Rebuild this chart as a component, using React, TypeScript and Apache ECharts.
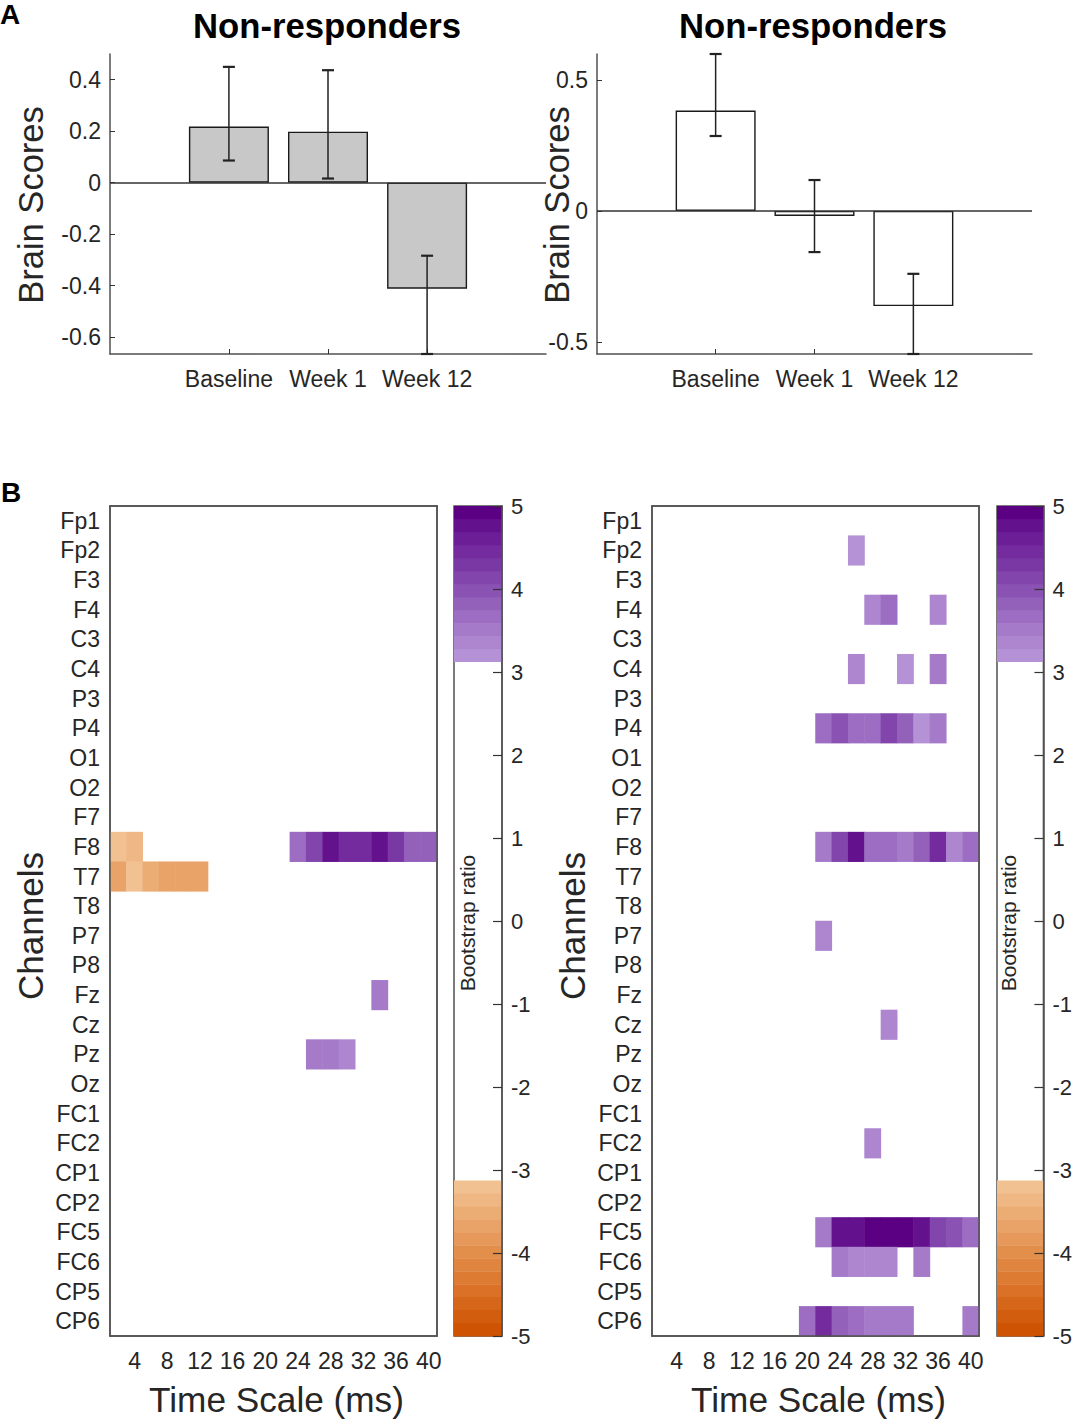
import React, { useRef, useEffect } from "react";
import * as echarts from "echarts";

const conditions = ["Baseline", "Week 1", "Week 12"];
const conditionPositions = [1, 2, 3];

const leftScores = [0.218, 0.198, -0.412];
const leftErrLow = [0.086, 0.016, -0.666];
const leftErrHigh = [0.45, 0.437, -0.284];
const leftTicks = [-0.6, -0.4, -0.2, 0, 0.2, 0.4];

const rightScores = [0.383, -0.019, -0.363];
const rightErrLow = [0.286, -0.157, -0.546];
const rightErrHigh = [0.599, 0.118, -0.24];
const rightTicks = [-0.5, 0, 0.5];

const channels = [
  "Fp1", "Fp2", "F3", "F4", "C3", "C4", "P3", "P4", "O1", "O2", "F7", "F8", "T7", "T8",
  "P7", "P8", "Fz", "Cz", "Pz", "Oz", "FC1", "FC2", "CP1", "CP2", "FC5", "FC6", "CP5", "CP6",
];
const timeScale = [
  "2", "4", "6", "8", "10", "12", "14", "16", "18", "20",
  "22", "24", "26", "28", "30", "32", "34", "36", "38", "40",
];

// [channel, time scale, bootstrap ratio], only the cells above threshold
const leftCells: [string, string, number][] = [
  ["F8", "2", -3.25], ["F8", "4", -3.35],
  ["F8", "24", 3.7], ["F8", "26", 4.2], ["F8", "28", 4.8], ["F8", "30", 4.5], ["F8", "32", 4.5],
  ["F8", "34", 4.7], ["F8", "36", 4.25], ["F8", "38", 3.8], ["F8", "40", 3.8],
  ["T7", "2", -3.65], ["T7", "4", -3.25], ["T7", "6", -3.5], ["T7", "8", -3.65], ["T7", "10", -3.65], ["T7", "12", -3.65],
  ["Fz", "34", 3.55],
  ["Pz", "26", 3.55], ["Pz", "28", 3.45], ["Pz", "30", 3.3],
];
const rightCells: [string, string, number][] = [
  ["Fp2", "26", 3.2],
  ["F4", "28", 3.35], ["F4", "30", 3.7], ["F4", "36", 3.35],
  ["C4", "26", 3.35], ["C4", "32", 3.2], ["C4", "36", 3.55],
  ["P4", "22", 3.7], ["P4", "24", 3.95], ["P4", "26", 3.7], ["P4", "28", 3.7], ["P4", "30", 4.15],
  ["P4", "32", 3.8], ["P4", "34", 3.2], ["P4", "36", 3.45],
  ["F8", "22", 3.45], ["F8", "24", 4.2], ["F8", "26", 4.75], ["F8", "28", 3.7], ["F8", "30", 3.7],
  ["F8", "32", 3.55], ["F8", "34", 3.9], ["F8", "36", 4.4], ["F8", "38", 3.35], ["F8", "40", 3.7],
  ["P7", "22", 3.35],
  ["Cz", "30", 3.3],
  ["FC2", "28", 3.3],
  ["FC5", "22", 3.45], ["FC5", "24", 4.8], ["FC5", "26", 4.8], ["FC5", "28", 5], ["FC5", "30", 5],
  ["FC5", "32", 5], ["FC5", "34", 4.7], ["FC5", "36", 4.2], ["FC5", "38", 4.0], ["FC5", "40", 3.6],
  ["FC6", "24", 3.45], ["FC6", "26", 3.35], ["FC6", "28", 3.35], ["FC6", "30", 3.35], ["FC6", "34", 3.45],
  ["CP6", "20", 3.6], ["CP6", "22", 4.4], ["CP6", "24", 3.8], ["CP6", "26", 3.7], ["CP6", "28", 3.45],
  ["CP6", "30", 3.45], ["CP6", "32", 3.45], ["CP6", "40", 3.55],
];

// colormap: 64 levels over -5..5, the middle 40 are white
const purples = [
  "#b592d6", "#ad86cf", "#a57ac9", "#9c6dc2", "#9360ba", "#8a52b2",
  "#8245ab", "#7a38a4", "#732b9d", "#6c1e96", "#64118e", "#5b0082",
];
const oranges = [
  "#f2c192", "#efb783", "#ecad75", "#e9a368", "#e6995a", "#e38f4c",
  "#e0853f", "#dd7b32", "#da7126", "#d6671a", "#d25d0e", "#ce5302",
];
const colorbarTicks = [-5, -4, -3, -2, -1, 0, 1, 2, 3, 4, 5];
const bandStep = 10 / 64;

const inkColor = "#262626";
const axisColor = "#505050";
const tickColor = "#333333";
const fontFamily = "Liberation Sans, Arial, sans-serif";

const pieces: any[] = [];
const bands: any[] = [];
const bandColors: string[] = [];
purples.forEach((color, i) => {
  const lo = 5 - (12 - i) * bandStep;
  pieces.push({ gte: lo, lte: lo + bandStep, color });
  bands.push([0, lo, lo + bandStep, bandColors.length]);
  bandColors.push(color);
});
oranges.forEach((color, i) => {
  const hi = -5 + (12 - i) * bandStep;
  pieces.push({ gte: hi - bandStep, lte: hi, color });
  bands.push([0, hi - bandStep, hi, bandColors.length]);
  bandColors.push(color);
});

const errorBarItem = (params: any, api: any) => {
  const x = api.value(0);
  const low = api.coord([x, api.value(1)]);
  const high = api.coord([x, api.value(2)]);
  const stem = { stroke: "#222222", lineWidth: 1.5 };
  const cap = { stroke: "#222222", lineWidth: 2.2 };
  return {
    type: "group",
    children: [
      { type: "line", shape: { x1: low[0], y1: low[1], x2: high[0], y2: high[1] }, style: stem },
      { type: "line", shape: { x1: low[0] - 6, y1: low[1], x2: low[0] + 6, y2: low[1] }, style: cap },
      { type: "line", shape: { x1: high[0] - 6, y1: high[1], x2: high[0] + 6, y2: high[1] }, style: cap },
    ],
  };
};

const bandItem = (params: any, api: any) => {
  const top = api.coord([0, api.value(2)]);
  const bottom = api.coord([1, api.value(1)]);
  return {
    type: "rect",
    shape: { x: top[0], y: top[1], width: bottom[0] - top[0], height: bottom[1] - top[1] + 0.4 },
    style: { fill: bandColors[api.value(3)] },
  };
};

const App = function () {
  const chart = useRef<HTMLDivElement>(null);

  useEffect(() => {
    if (!chart.current) return;
    const myChart = echarts.init(chart.current, null, { renderer: "svg" });

    const xAxes: any[] = [];
    const yAxes: any[] = [];
    const grids: any[] = [];
    const series: any[] = [];

    const addBarPanel = (
      left: number,
      width: number,
      min: number,
      max: number,
      ticks: number[],
      scores: number[],
      errLow: number[],
      errHigh: number[],
      fill: string,
      nameGap: number
    ) => {
      const idx = grids.length;
      grids.push({ left, top: 54, width, height: 300 });
      const xIdx = xAxes.length;
      xAxes.push({
        type: "value",
        gridIndex: idx,
        min: -0.2,
        max: 4.2,
        splitLine: { show: false },
        axisLine: { onZero: false, lineStyle: { color: axisColor, width: 1.5 } },
        axisTick: { inside: true, length: 5, customValues: conditionPositions, lineStyle: { color: tickColor } },
        axisLabel: {
          customValues: conditionPositions,
          formatter: (v: number) => conditions[v - 1],
          color: inkColor,
          fontSize: 23,
          margin: 13,
        },
      });
      const yIdx = yAxes.length;
      yAxes.push({
        type: "value",
        gridIndex: idx,
        min,
        max,
        name: "Brain Scores",
        nameLocation: "middle",
        nameGap,
        nameMoveOverlap: false,
        nameTextStyle: { fontSize: 34.5, color: inkColor, padding: [0, 2, 0, 0] },
        splitLine: { show: false },
        axisLine: { onZero: false, lineStyle: { color: axisColor, width: 1.5 } },
        axisTick: { inside: true, length: 5, customValues: ticks, lineStyle: { color: tickColor } },
        axisLabel: {
          customValues: ticks,
          formatter: (v: number) => String(v),
          color: inkColor,
          fontSize: 23,
          margin: 9,
          padding: [2, 0, 0, 0],
        },
      });
      series.push({
        type: "bar",
        xAxisIndex: xIdx,
        yAxisIndex: yIdx,
        barWidth: 80,
        itemStyle: { color: fill, borderColor: "#1a1a1a", borderWidth: 1.4 },
        data: scores.map((s, i) => [conditionPositions[i], s]),
        markLine: {
          silent: true,
          symbol: "none",
          label: { show: false },
          lineStyle: { color: "#333333", width: 1.5, type: "solid" },
          data: [{ yAxis: 0 }],
        },
      });
      series.push({
        type: "custom",
        xAxisIndex: xIdx,
        yAxisIndex: yIdx,
        renderItem: errorBarItem,
        encode: { x: 0, y: [1, 2] },
        data: scores.map((_, i) => [conditionPositions[i], errLow[i], errHigh[i]]),
        z: 5,
      });
    };

    const addHeatPanel = (left: number, barLeft: number, cells: [string, string, number][]) => {
      const idx = grids.length;
      grids.push({
        left,
        top: 506,
        width: 327,
        height: 830,
        show: true,
        borderColor: axisColor,
        borderWidth: 1.5,
        backgroundColor: "#ffffff",
      });
      const everyFourth = (index: number) => index % 2 === 1;
      const xTick = { inside: true, length: 9, alignWithLabel: true, interval: everyFourth, lineStyle: { color: tickColor, width: 1.2 } };
      const yTick = { inside: true, length: 9, alignWithLabel: true, interval: 0, lineStyle: { color: tickColor, width: 1.2 } };
      const xIdx = xAxes.length;
      xAxes.push({
        type: "category",
        gridIndex: idx,
        data: timeScale,
        position: "bottom",
        z: 5,
        name: "Time Scale (ms)",
        nameLocation: "middle",
        nameGap: 46,
        nameMoveOverlap: false,
        nameTextStyle: { fontSize: 35.2, color: inkColor, padding: [0, 0, 0, 6] },
        axisLine: { lineStyle: { color: axisColor, width: 1.5 } },
        axisTick: xTick,
        axisLabel: { interval: everyFourth, color: inkColor, fontSize: 23, margin: 13 },
      });
      xAxes.push({
        type: "category",
        gridIndex: idx,
        data: timeScale,
        position: "top",
        z: 5,
        axisLine: { lineStyle: { color: axisColor, width: 1.5 } },
        axisTick: xTick,
        axisLabel: { show: false },
      });
      const yIdx = yAxes.length;
      yAxes.push({
        type: "category",
        gridIndex: idx,
        data: channels,
        inverse: true,
        position: "left",
        z: 5,
        name: "Channels",
        nameLocation: "middle",
        nameGap: 62,
        nameMoveOverlap: false,
        nameTextStyle: { fontSize: 35, color: inkColor, padding: [0, 10, 0, 0] },
        axisLine: { lineStyle: { color: axisColor, width: 1.5 } },
        axisTick: yTick,
        axisLabel: { interval: 0, color: inkColor, fontSize: 23, margin: 10 },
      });
      yAxes.push({
        type: "category",
        gridIndex: idx,
        data: channels,
        inverse: true,
        position: "right",
        z: 5,
        axisLine: { lineStyle: { color: axisColor, width: 1.5 } },
        axisTick: yTick,
        axisLabel: { show: false },
      });
      series.push({
        type: "heatmap",
        xAxisIndex: xIdx,
        yAxisIndex: yIdx,
        data: cells.map((c) => [c[1], c[0], c[2]]),
      });

      // colour bar
      const barIdx = grids.length;
      grids.push({
        left: barLeft,
        top: 506,
        width: 48,
        height: 830,
        show: true,
        borderColor: axisColor,
        borderWidth: 1.5,
      });
      const barX = xAxes.length;
      xAxes.push({
        type: "value",
        gridIndex: barIdx,
        min: 0,
        max: 1,
        axisLine: { show: false },
        axisTick: { show: false },
        axisLabel: { show: false },
        splitLine: { show: false },
      });
      const barY = yAxes.length;
      yAxes.push({
        type: "value",
        gridIndex: barIdx,
        min: -5,
        max: 5,
        interval: 1,
        position: "right",
        z: 5,
        name: "Bootstrap ratio",
        nameLocation: "middle",
        nameGap: -45,
        nameRotate: 90,
        nameMoveOverlap: false,
        nameTextStyle: { fontSize: 21, color: inkColor, padding: [0, 4, 0, 0] },
        splitLine: { show: false },
        axisLine: { onZero: false, lineStyle: { color: axisColor, width: 1.5 } },
        axisTick: { inside: true, length: 9, lineStyle: { color: tickColor, width: 1.2 } },
        axisLabel: { color: inkColor, fontSize: 22, margin: 9, customValues: colorbarTicks },
      });
      series.push({
        type: "custom",
        xAxisIndex: barX,
        yAxisIndex: barY,
        renderItem: bandItem,
        encode: { x: 0, y: [1, 2] },
        data: bands,
      });
    };

    addBarPanel(110, 436, -0.666, 0.5, leftTicks, leftScores, leftErrLow, leftErrHigh, "#c8c8c8", 62);
    addBarPanel(597, 435, -0.546, 0.599, rightTicks, rightScores, rightErrLow, rightErrHigh, "#ffffff", 23);
    addHeatPanel(110, 454, leftCells);
    addHeatPanel(652, 997, rightCells);

    const heatIndexes = series.map((s, i) => (s.type === "heatmap" ? i : -1)).filter((i) => i >= 0);

    const panelLabel = { fontSize: 28, fontWeight: "bold", color: "#000", fontFamily };
    const titleStyle = { fontSize: 34.7, fontWeight: "bold", color: "#000", fontFamily };
    const option = {
      animation: false,
      textStyle: { fontFamily },
      title: [
        { text: "A", left: 0, top: 0, padding: 0, textStyle: panelLabel },
        { text: "B", left: 1, top: 478, padding: 0, textStyle: panelLabel },
        { text: "Non-responders", left: 322, top: 3, textAlign: "center", textStyle: titleStyle },
        { text: "Non-responders", left: 808, top: 3, textAlign: "center", textStyle: titleStyle },
      ],
      grid: grids,
      xAxis: xAxes,
      yAxis: yAxes,
      visualMap: {
        type: "piecewise",
        show: false,
        seriesIndex: heatIndexes,
        dimension: 2,
        pieces,
      },
      series,
    };
    myChart.setOption(option as any);

    return () => {
      myChart.dispose();
    };
  }, []);

  return (
    <div
      ref={chart}
      style={{ position: "absolute", left: 0, top: 0, width: 1075, height: 1424, background: "#fff" }}
    ></div>
  );
};

export default App;
